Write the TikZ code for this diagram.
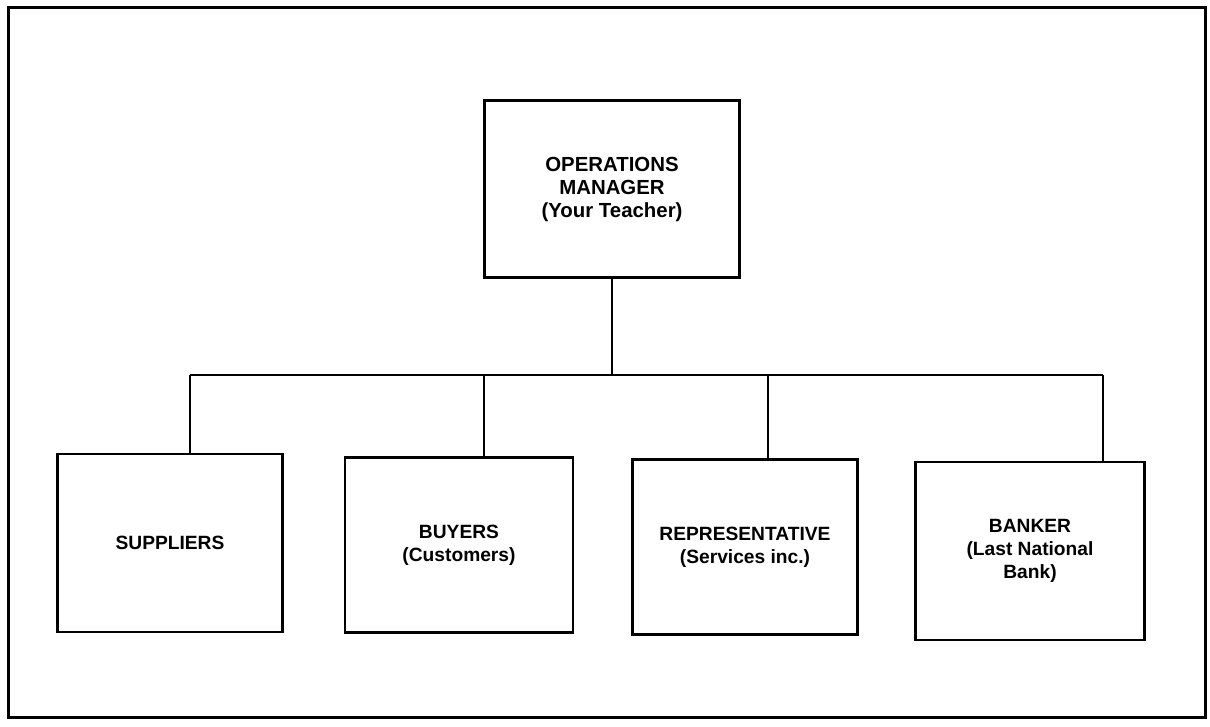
\documentclass[tikz,border=0pt]{standalone}
\usepackage{fontspec}
\setmainfont{Liberation Sans}
\begin{document}
\begin{tikzpicture}[x=0.5pt,y=-0.5pt,
  box/.style={draw, line width=1.1pt, inner sep=0pt, align=center,
    font=\bfseries\fontsize{9.6}{11.5}\selectfont},
  conn/.style={line width=0.7pt}]
\useasboundingbox (0,0) rectangle (1210,727);
\draw[line width=1.5pt] (8,8) rectangle (1205,717);
\node[box, minimum width=127.5pt, minimum height=88.5pt, font=\bfseries\fontsize{10.2}{11.5}\selectfont] (om) at (612,189) {OPERATIONS\\MANAGER\\(Your Teacher)};
\node[box, minimum width=112.5pt, minimum height=89pt] (sup) at (170,543) {SUPPLIERS};
\node[box, minimum width=114pt, minimum height=87.5pt] (buy) at (459,545) {BUYERS\\(Customers)};
\node[box, minimum width=112.5pt, minimum height=87.5pt] (rep) at (745,547) {REPRESENTATIVE\\(Services inc.)};
\node[box, minimum width=114.5pt, minimum height=89pt] (ban) at (1030,551) {BANKER\\(Last National\\Bank)};
\coordinate (j) at (om.south |- 0,375);
\coordinate (l) at (190,375);
\coordinate (r) at (1103,375);
\draw[conn] (om.south) -- (j);
\draw[conn] (l) -- (r);
\draw[conn] (l) -- (l |- sup.north);
\draw[conn] (484,375) coordinate (b) -- (b |- buy.north);
\draw[conn] (768,375) coordinate (c) -- (c |- rep.north);
\draw[conn] (r) -- (r |- ban.north);
\end{tikzpicture}
\end{document}
